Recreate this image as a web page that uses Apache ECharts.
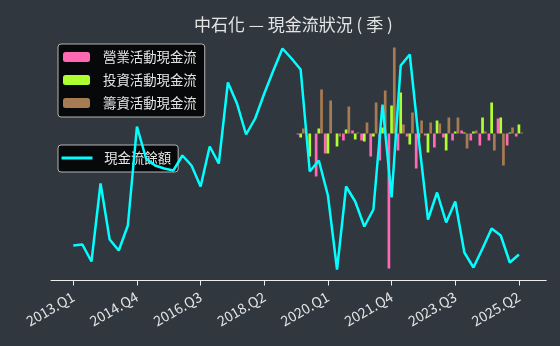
<!DOCTYPE html>
<html>
<head>
<meta charset="utf-8">
<script src="https://cdn.jsdelivr.net/npm/echarts@6/dist/echarts.min.js"></script>
<style>
html,body{margin:0;padding:0;background:#31373f;}
#c{width:560px;height:346px;}
</style>
</head>
<body>
<div id="c"></div>
<script>
const quarters = [
 '2013.Q1','2013.Q2','2013.Q3','2013.Q4','2014.Q1','2014.Q2','2014.Q3','2014.Q4',
 '2015.Q1','2015.Q2','2015.Q3','2015.Q4','2016.Q1','2016.Q2','2016.Q3','2016.Q4',
 '2017.Q1','2017.Q2','2017.Q3','2017.Q4','2018.Q1','2018.Q2','2018.Q3','2018.Q4',
 '2019.Q1','2019.Q2','2019.Q3','2019.Q4','2020.Q1','2020.Q2','2020.Q3','2020.Q4',
 '2021.Q1','2021.Q2','2021.Q3','2021.Q4','2022.Q1','2022.Q2','2022.Q3','2022.Q4',
 '2023.Q1','2023.Q2','2023.Q3','2023.Q4','2024.Q1','2024.Q2','2024.Q3','2024.Q4',
 '2025.Q1','2025.Q2'
];
const tickIndexes = [0, 7, 14, 21, 28, 35, 42, 49];

const N = null;
const operatingCF = [
 N,N,N,N,N,N,N,N,N,N,N,N,N,N,N,N,N,N,N,N,N,N,N,N,N,
 -1, 0, -43, -20, 0, -7, 3, -7, -23, -27, -135, -17, -3, -35, -2, -14, -4, -7, 3, -7, -12, -7, 15, -12, -3
];
const investingCF = [
 N,N,N,N,N,N,N,N,N,N,N,N,N,N,N,N,N,N,N,N,N,N,N,N,N,
 -4, -23, 5, -20, -13, 4, -6, -8, -3, 6, 28, 41, -11, -5, -19, 13, -17, 2, 1, 2, 16, 31, 16, 1, 9
];
const financingCF = [
 N,N,N,N,N,N,N,N,N,N,N,N,N,N,N,N,N,N,N,N,N,N,N,N,N,
 5, 0, 44, 33, -3, 27, 1, 11, 31, 43, 86, 9, 21, 13, 11, 10, 16, 16, -15, 3, 2, -17, -32, 6, 1
];
const cashBalance = [
 35, 36, 19, 97, 41, 30, 55, 154, 122, 115,
 112, 110, 125, 115, 94, 134, 117, 198, 177, 146,
 162, 187, 210, 232, 222, 211, 109, 120, 85, 11,
 94, 79, 54, 71, 176, 83, 215, 226, 140, 61,
 88, 58, 79, 28, 13, 32, 52, 45, 18, 26
];

const FONT = '"Noto Sans CJK TC", "Noto Sans", sans-serif';
const TXT = '#e4e4e4';
const pair = arr => arr.map((v, i) => [i, v]);

const chart = echarts.init(document.getElementById('c'), null, {renderer: 'canvas'});
chart.setOption({
  backgroundColor: '#31373f',
  animation: false,
  title: {
    text: '中石化 — 現金流狀況 ( 季 )',
    left: 194, top: 16, padding: 0,
    textStyle: {color: TXT, fontSize: 17, fontWeight: 'normal', fontFamily: FONT}
  },
  legend: [
    {
      data: ['營業活動現金流', '投資活動現金流', '籌資活動現金流'],
      orient: 'vertical', left: 58, top: 44,
      padding: [5, 8, 6, 5], itemGap: 7,
      itemWidth: 27, itemHeight: 10,
      backgroundColor: 'rgba(0,0,0,0.85)',
      borderColor: '#b4b4b4', borderWidth: 1, borderRadius: 3,
      textStyle: {color: TXT, fontSize: 13.4, fontFamily: FONT, lineHeight: 16, padding: [0, 0, 0, 8]}
    },
    {
      data: [{name: '現金流餘額', icon: 'rect'}],
      orient: 'vertical', left: 58, top: 145,
      padding: [5, 7, 6, 3.5],
      itemWidth: 31, itemHeight: 3,
      backgroundColor: 'rgba(0,0,0,0.85)',
      borderColor: '#b4b4b4', borderWidth: 1, borderRadius: 3,
      textStyle: {color: TXT, fontSize: 13.4, fontFamily: FONT, lineHeight: 16, padding: [0, 0, 0, 6.7]}
    }
  ],
  grid: {left: 51, right: 13.8, top: 34.5, bottom: 65.5, containLabel: false},
  xAxis: {
    type: 'value', min: -2.45, max: 52.0,
    splitLine: {show: false},
    axisLine: {show: true, onZero: false, lineStyle: {color: '#eeeeee', width: 1}},
    axisTick: {show: true, length: 5, lineStyle: {color: '#eeeeee'}, customValues: tickIndexes},
    axisLabel: {
      customValues: tickIndexes,
      rotate: 30, margin: 15, color: TXT, fontSize: 14, fontFamily: FONT,
      formatter: v => quarters[Math.round(v)] || ''
    }
  },
  yAxis: [
    {type: 'value', min: -147, max: 99, show: false, splitLine: {show: false}},
    {type: 'value', min: 0, max: 246, show: false, splitLine: {show: false}}
  ],
  series: [
    {name: '營業活動現金流', type: 'bar', yAxisIndex: 0, data: pair(operatingCF),
     barWidth: 2.7, barGap: '0%', itemStyle: {color: '#ff69b4'}},
    {name: '投資活動現金流', type: 'bar', yAxisIndex: 0, data: pair(investingCF),
     barWidth: 2.7, barGap: '0%', itemStyle: {color: '#adff2f'}},
    {name: '籌資活動現金流', type: 'bar', yAxisIndex: 0, data: pair(financingCF),
     barWidth: 2.7, barGap: '0%', itemStyle: {color: '#a67c52'}},
    {name: '現金流餘額', type: 'line', yAxisIndex: 1, data: pair(cashBalance),
     symbol: 'none', z: 5, lineStyle: {color: '#00ffff', width: 2.5}, itemStyle: {color: '#00ffff'}}
  ]
});
</script>
</body>
</html>
